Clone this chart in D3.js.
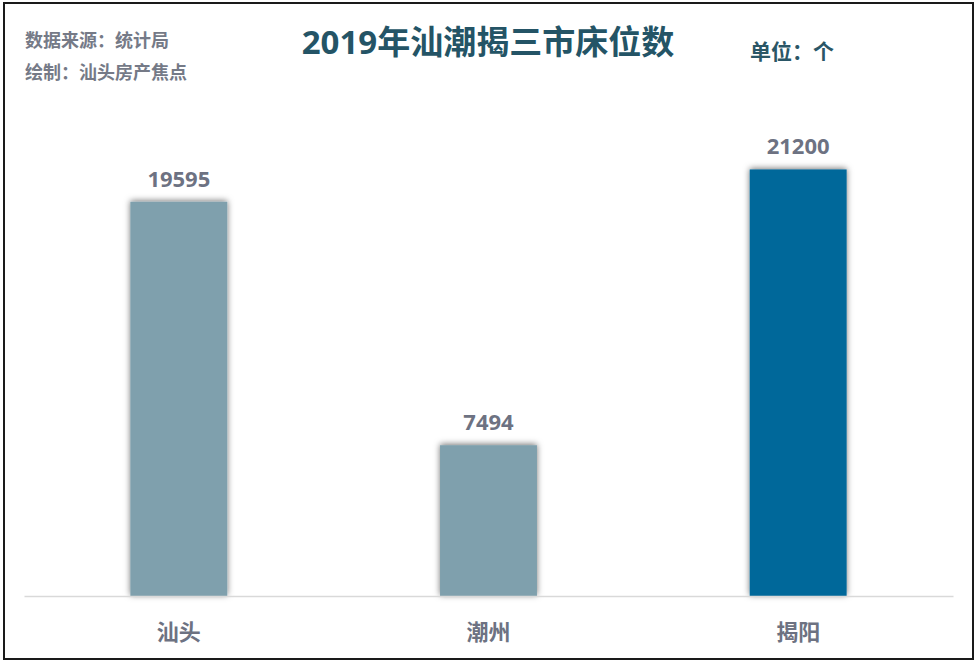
<!DOCTYPE html>
<html><head><meta charset="utf-8">
<script src="https://cdn.jsdelivr.net/npm/d3@7"></script>
<style>html,body{margin:0;padding:0;background:#fff;}svg{display:block;}</style>
</head><body>
<svg id="c" width="979" height="665"></svg>
<script>
const categories = ["汕头", "潮州", "揭阳"];
const values = [19595, 7494, 21200];
const barColors = ["#7fa0ad", "#7fa0ad", "#04689a"];
const title = "2019年汕潮揭三市床位数";
const sourceText = "数据来源：统计局";
const authorText = "绘制：汕头房产焦点";
const unitText = "单位：个";

const svg = d3.select("#c");
const FONT = "'Open Sans','Noto Sans CJK SC',sans-serif";

const defs = svg.append("defs");
const f = defs.append("filter").attr("id","sh").attr("x","-20%").attr("y","-20%").attr("width","140%").attr("height","140%");
f.append("feDropShadow").attr("dx",0).attr("dy",-1).attr("stdDeviation",3).attr("flood-color","#000").attr("flood-opacity",0.55);

svg.append("rect").attr("x",4).attr("y",3).attr("width",969).attr("height",656)
  .attr("fill","#fff").attr("stroke","#1a1a1a").attr("stroke-width",2);

const x = d3.scaleBand().domain(categories).range([24, 953]).paddingInner(0.687).paddingOuter(0.3435);
const y = d3.scaleLinear().domain([0, 25000]).range([596, 93]);

svg.append("g").selectAll("rect").data(values).join("rect")
  .attr("x",(d,i)=>x(categories[i])).attr("width",x.bandwidth())
  .attr("y",d=>y(d)).attr("height",d=>y(0)-y(d))
  .attr("fill",(d,i)=>barColors[i]).attr("filter","url(#sh)");

// axis
const ax = svg.append("g").attr("transform",`translate(0,${y(0)})`)
  .call(d3.axisBottom(x).tickSize(0).tickPadding(0));
ax.select(".domain").attr("stroke","#d9d9d9").attr("stroke-width",1.3);
ax.selectAll("text").attr("font-family",FONT).attr("font-size",22).attr("font-weight","bold")
  .attr("fill","#6d7282").attr("dy",0).attr("y",44);

// value labels
svg.append("g").selectAll("text").data(values).join("text")
  .attr("x",(d,i)=>x(categories[i])+x.bandwidth()/2).attr("y",d=>y(d)-15)
  .attr("text-anchor","middle").attr("font-family",FONT).attr("font-size",22).attr("font-weight","bold")
  .attr("fill","#6d7282").text(d=>d);

svg.append("text").attr("x",488).attr("y",54).attr("text-anchor","middle")
  .attr("font-family",FONT).attr("font-size",33).attr("font-weight","bold").attr("fill","#245466").text(title);
svg.append("text").attr("x",25).attr("y",47).attr("font-family",FONT).attr("font-size",18).attr("font-weight","bold").attr("fill","#757a87").text(sourceText);
svg.append("text").attr("x",25).attr("y",79).attr("font-family",FONT).attr("font-size",18).attr("font-weight","bold").attr("fill","#757a87").text(authorText);
svg.append("text").attr("x",750).attr("y",59).attr("font-family",FONT).attr("font-size",21).attr("font-weight","bold").attr("fill","#2a5666").text(unitText);
</script>
</body></html>
